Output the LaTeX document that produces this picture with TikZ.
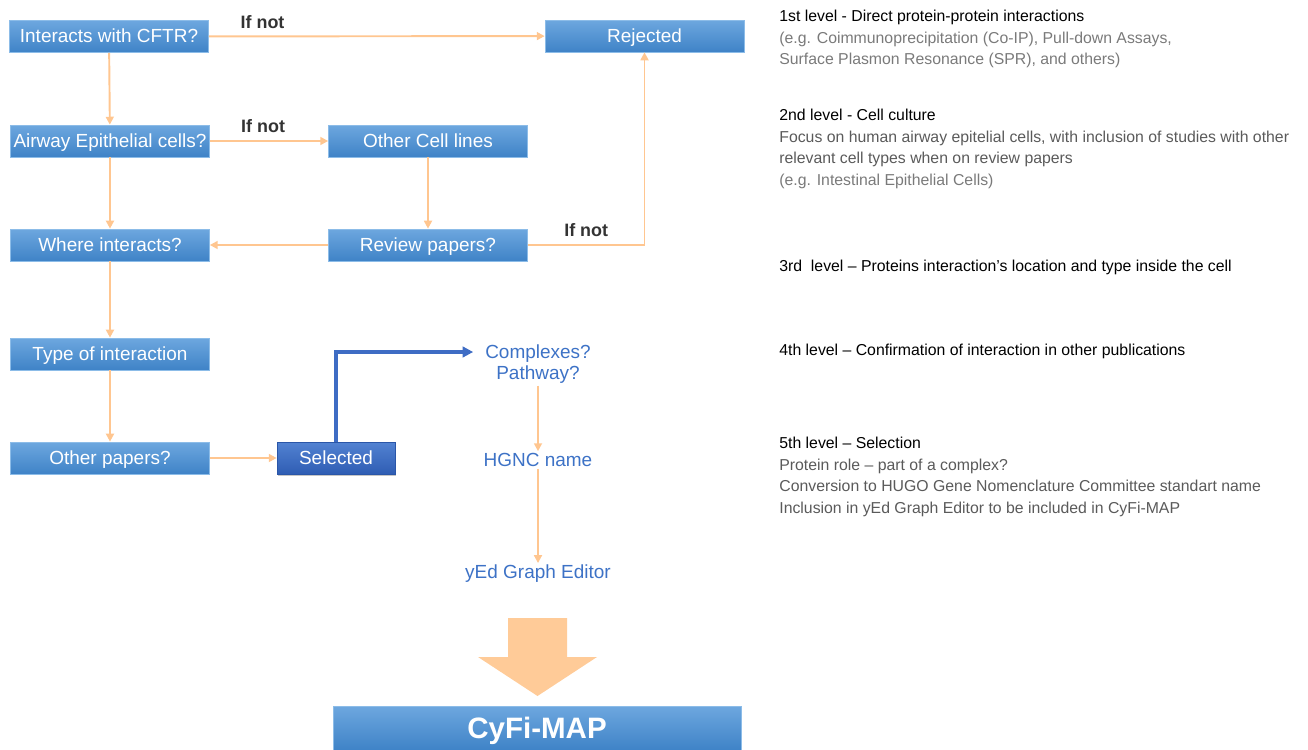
\documentclass[tikz,border=0pt]{standalone}
\usepackage{fontspec}
\setmainfont{Liberation Sans}
\usetikzlibrary{arrows.meta,calc,positioning,shadows}
\definecolor{boxtop}{HTML}{6DA7DF}
\definecolor{boxbot}{HTML}{3F83C7}
\definecolor{boxedge}{HTML}{8CBCE8}
\definecolor{seltop}{HTML}{5282D2}
\definecolor{selbot}{HTML}{2F5DB3}
\definecolor{seledge}{HTML}{2A56A8}
\definecolor{flowline}{HTML}{FFC690}
\definecolor{bigarrow}{HTML}{FFCB98}
\definecolor{txtblue}{HTML}{3D72C6}
\definecolor{selline}{HTML}{3E6CC4}
\definecolor{ifgray}{HTML}{333333}
\definecolor{notegray}{HTML}{5A5A5A}
\definecolor{egray}{HTML}{7A7A7A}
\tikzset{%
	block/.style    = {rectangle, draw=boxedge, line width=0.4pt, top color=boxtop, bottom color=boxbot, text=white, minimum width=3.98cm, minimum height=0.64cm, inner sep=1pt, text height=8.8pt, text depth=1.6pt, font=\fontsize{10.8}{13}\selectfont}, % question box
	selbox/.style   = {block, top color=seltop, bottom color=selbot, draw=seledge, minimum width=2.36cm, drop shadow={opacity=0.45, shadow xshift=0.6pt, shadow yshift=-1.2pt}}, % selected
	bluetext/.style = {text=txtblue, align=center, inner sep=1pt, font=\fontsize{10.8}{12.2}\selectfont}, % steps after selection
	flow/.style     = {draw=flowline, line width=1.1pt, -{Triangle[length=4.5pt,width=4.5pt]}},
	selflow/.style  = {draw=selline, line width=2pt, -{Triangle[length=6pt,width=6pt]}},
	ifnot/.style    = {text=ifgray, font=\bfseries\fontsize{10.2}{12}\selectfont, inner sep=1pt, above=3pt},
	levelbox/.style = {anchor=north west, align=left, inner sep=0pt, font=\fontsize{9}{12.2}\selectfont},
}

\begin{document}
\begin{tikzpicture}[x=0.02cm, y=-0.02cm]
	\useasboundingbox (0,0) rectangle (1308,750);
	% left column
	\node[block] (cftr) at (109,36.5) {Interacts with CFTR?};
	\node[block] (airway) at (110,141) {Airway Epithelial cells?};
	\node[block] (where) at (110,245) {Where interacts?};
	\node[block] (type) at (110,354) {Type of interaction};
	\node[block] (other) at (110,458) {Other papers?};
	% middle
	\node[block] (rejected) at (644.5,36) {Rejected};
	\node[block] (lines) at (428,141) {Other Cell lines};
	\node[block] (review) at (428,245) {Review papers?};
	\node[selbox] (selected) at (336,458) {Selected};
	\node[bluetext] (complexes) at (538,364) {Complexes?\\Pathway?};
	\node[bluetext] (hgnc) at (538,460) {HGNC name};
	\node[bluetext] (yed) at (538,574) {yEd Graph Editor};
	\node[block, minimum width=8.16cm, minimum height=0.88cm, text height=12pt, text depth=0pt, font=\bfseries\fontsize{16.8}{18}\selectfont] (cyfi) at (537,728) {CyFi-MAP};
	
	\draw[flow] (cftr) -- node[ifnot, pos=0.16] {If not} (rejected);
	\draw[flow] (cftr) -- (airway);
	\draw[flow] (airway) -- node[ifnot, pos=0.45] {If not} (lines);
	\draw[flow] (airway) -- (where);
	\draw[flow] (lines) -- (review);
	\draw[flow] (review) -- (where);
	\draw[flow] (review) -| node[ifnot, pos=0.25] {If not} (rejected);
	\draw[flow] (where) -- (type);
	\draw[flow] (type) -- (other);
	\draw[flow] (other) -- (selected);
	\draw[selflow] (selected.north) |- ([yshift=0.24cm, xshift=-0.2cm]complexes.west);
	\draw[flow] (complexes) -- (hgnc);
	\draw[flow] (hgnc) -- (yed);
	\fill[bigarrow] (508,618) -- (567,618) -- (567,657) -- (597,657) -- (537.5,696) -- (478,657) -- (508,657) -- cycle;
	
	% levels
	\node[levelbox] (lvl1) at (779,10) {1st level - Direct protein-protein interactions\\
		\textcolor{egray}{(e.g. Coimmunoprecipitation (Co-IP), Pull-down Assays,}\\
		\textcolor{egray}{Surface Plasmon Resonance (SPR), and others)}};
	\node[levelbox] (lvl2) at (779,109) {2nd level - Cell culture\\
		\textcolor{notegray}{Focus on human airway epitelial cells, with inclusion of studies with other}\\
		\textcolor{notegray}{relevant cell types when on review papers}\\
		\textcolor{egray}{(e.g. Intestinal Epithelial Cells)}};
	\node[levelbox] (lvl3) at (779,260) {3rd\ \ level -- Proteins interaction’s location and type inside the cell};
	\node[levelbox] (lvl4) at (779,344) {4th level -- Confirmation of interaction in other publications};
	\node[levelbox] (lvl5) at (779,437) {5th level -- Selection\\
		\textcolor{notegray}{Protein role -- part of a complex?}\\
		\textcolor{notegray}{Conversion to HUGO Gene Nomenclature Committee standart name}\\
		\textcolor{notegray}{Inclusion in yEd Graph Editor to be included in CyFi-MAP}};
\end{tikzpicture}
\end{document}
